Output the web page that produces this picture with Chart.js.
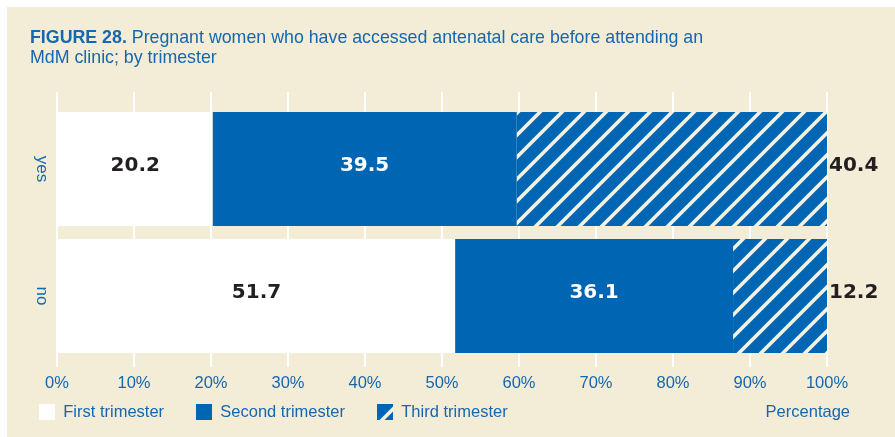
<!DOCTYPE html>
<html>
<head>
<meta charset="utf-8">
<script src="https://cdn.jsdelivr.net/npm/chart.js@4.4.1/dist/chart.umd.min.js"></script>
<style>
  body { margin: 0; background: #fff; }
  #panel { position: absolute; left: 7px; top: 7px; width: 888px; height: 430px; background: #f3ecd6; }
  #title { position: absolute; left: 23px; top: 20px; font-family: "Liberation Sans", Arial, sans-serif; font-size: 17.8px; line-height: 20px; color: #1467b0; white-space: nowrap; }
  #myChart { position: absolute; left: 0; top: 0; }
</style>
</head>
<body>
<div id="panel">
  <canvas id="myChart" width="888" height="430"></canvas>
  <div id="title"><b>FIGURE 28.</b> Pregnant women who have accessed antenatal care before attending an<br>MdM clinic; by trimester</div>
</div>
<script>
const categories = ['yes', 'no'];
const seriesLabels = ['First trimester', 'Second trimester', 'Third trimester'];
const firstTrimester = [20.2, 51.7];
const secondTrimester = [39.5, 36.1];
const thirdTrimester = [40.4, 12.2];

const blue = '#0066b3';
const textBlue = '#1467b0';
const sans = '"Liberation Sans", Arial, sans-serif';

// hatch pattern for the third trimester
function makeHatch() {
    const s = 22;
    const c = document.createElement('canvas');
    c.width = s; c.height = s;
    const g = c.getContext('2d');
    g.fillStyle = blue;
    g.fillRect(0, 0, s, s);
    g.strokeStyle = '#f7f2e2';
    g.lineWidth = 3.6;
    g.beginPath();
    g.moveTo(-2, s + 2); g.lineTo(s + 2, -2);
    g.moveTo(-2, 2); g.lineTo(2, -2);
    g.moveTo(s - 2, s + 2); g.lineTo(s + 2, s - 2);
    g.stroke();
    return g.createPattern(c, 'repeat');
}

// little squares for the legend
function legendBox(fill, striped) {
    const c = document.createElement('canvas');
    c.width = 16; c.height = 16;
    const g = c.getContext('2d');
    g.fillStyle = fill;
    g.fillRect(0, 0, 16, 16);
    if (striped) {
        g.strokeStyle = '#f7f2e2';
        g.lineWidth = 3.5;
        g.beginPath();
        g.moveTo(3, 18); g.lineTo(18, 3);
        g.stroke();
    }
    return c;
}

const extras = {
    id: 'extras',
    beforeDatasetsDraw(chart) {
        // white gridlines continue a little above the first bar
        const {ctx, chartArea, scales: {x}} = chart;
        ctx.save();
        ctx.strokeStyle = '#fff';
        ctx.lineWidth = 2;
        x.ticks.forEach((t, i) => {
            const px = Math.round(x.getPixelForTick(i));
            ctx.beginPath();
            ctx.moveTo(px, chartArea.top - 13.5);
            ctx.lineTo(px, chartArea.top);
            ctx.stroke();
        });
        ctx.restore();
    },
    afterDatasetsDraw(chart) {
        const ctx = chart.ctx;
        ctx.save();
        ctx.font = 'bold 20px "DejaVu Sans", sans-serif';
        ctx.textBaseline = 'middle';
        chart.data.datasets.forEach((ds, i) => {
            chart.getDatasetMeta(i).data.forEach((bar, j) => {
                const txt = ds.data[j].toFixed(1);
                if (i === 2) {
                    ctx.textAlign = 'left';
                    ctx.fillStyle = '#231f20';
                    ctx.fillText(txt, chart.chartArea.right + 2, bar.y - 3);
                } else {
                    ctx.textAlign = 'center';
                    ctx.fillStyle = i === 1 ? '#fff' : '#231f20';
                    ctx.fillText(txt, (bar.x + bar.base) / 2, bar.y - 3);
                }
            });
        });
        ctx.restore();
    },
    afterDraw(chart) {
        const ctx = chart.ctx;
        const hb = chart.legend.legendHitBoxes[0];
        ctx.save();
        ctx.font = '16.5px ' + sans;
        ctx.fillStyle = textBlue;
        ctx.textAlign = 'right';
        ctx.textBaseline = 'middle';
        ctx.fillText('Percentage', chart.chartArea.right + 23, hb.top + hb.height / 2);
        ctx.restore();
    }
};

const ctx = document.getElementById('myChart').getContext('2d');
const myChart = new Chart(ctx, {
    type: 'bar',
    data: {
        labels: categories,
        datasets: [{
            label: seriesLabels[0],
            data: firstTrimester,
            backgroundColor: '#ffffff',
            pointStyle: legendBox('#ffffff', false)
        }, {
            label: seriesLabels[1],
            data: secondTrimester,
            backgroundColor: blue,
            pointStyle: legendBox(blue, false)
        }, {
            label: seriesLabels[2],
            data: thirdTrimester,
            backgroundColor: makeHatch(),
            pointStyle: legendBox(blue, true)
        }]
    },
    options: {
        indexAxis: 'y',
        responsive: false,
        animation: false,
        barPercentage: 0.898,
        categoryPercentage: 1,
        layout: {
            padding: { top: 98.5, right: 68, bottom: 6.75, left: 0 }
        },
        scales: {
            x: {
                stacked: true,
                min: 0,
                max: 100,
                border: { display: false },
                grid: { color: '#ffffff', tickColor: '#ffffff', lineWidth: 2, tickLength: 7.5 },
                ticks: {
                    stepSize: 10,
                    mirror: true,     // keeps the labels from being clipped to the thin axis box
                    padding: -33.9,
                    color: textBlue,
                    font: { family: sans, size: 16.5 },
                    callback: v => v + '%'
                },
                afterFit: s => { s.height = 12.25; }
            },
            y: {
                stacked: true,
                border: { display: false },
                grid: { display: false, drawTicks: false },
                ticks: {
                    minRotation: -90,
                    maxRotation: -90,
                    crossAlign: 'center',
                    padding: 1.8,
                    color: textBlue,
                    font: { family: sans, size: 17 }
                },
                afterFit: s => { s.width = 50; }
            }
        },
        plugins: {
            legend: {
                position: 'bottom',
                align: 'start',
                labels: {
                    usePointStyle: true,
                    boxWidth: 16,
                    boxHeight: 16,
                    padding: 32,
                    color: textBlue,
                    font: { family: sans, size: 16.5 }
                }
            },
            tooltip: { enabled: false }
        }
    },
    plugins: [extras]
});
</script>
</body>
</html>
